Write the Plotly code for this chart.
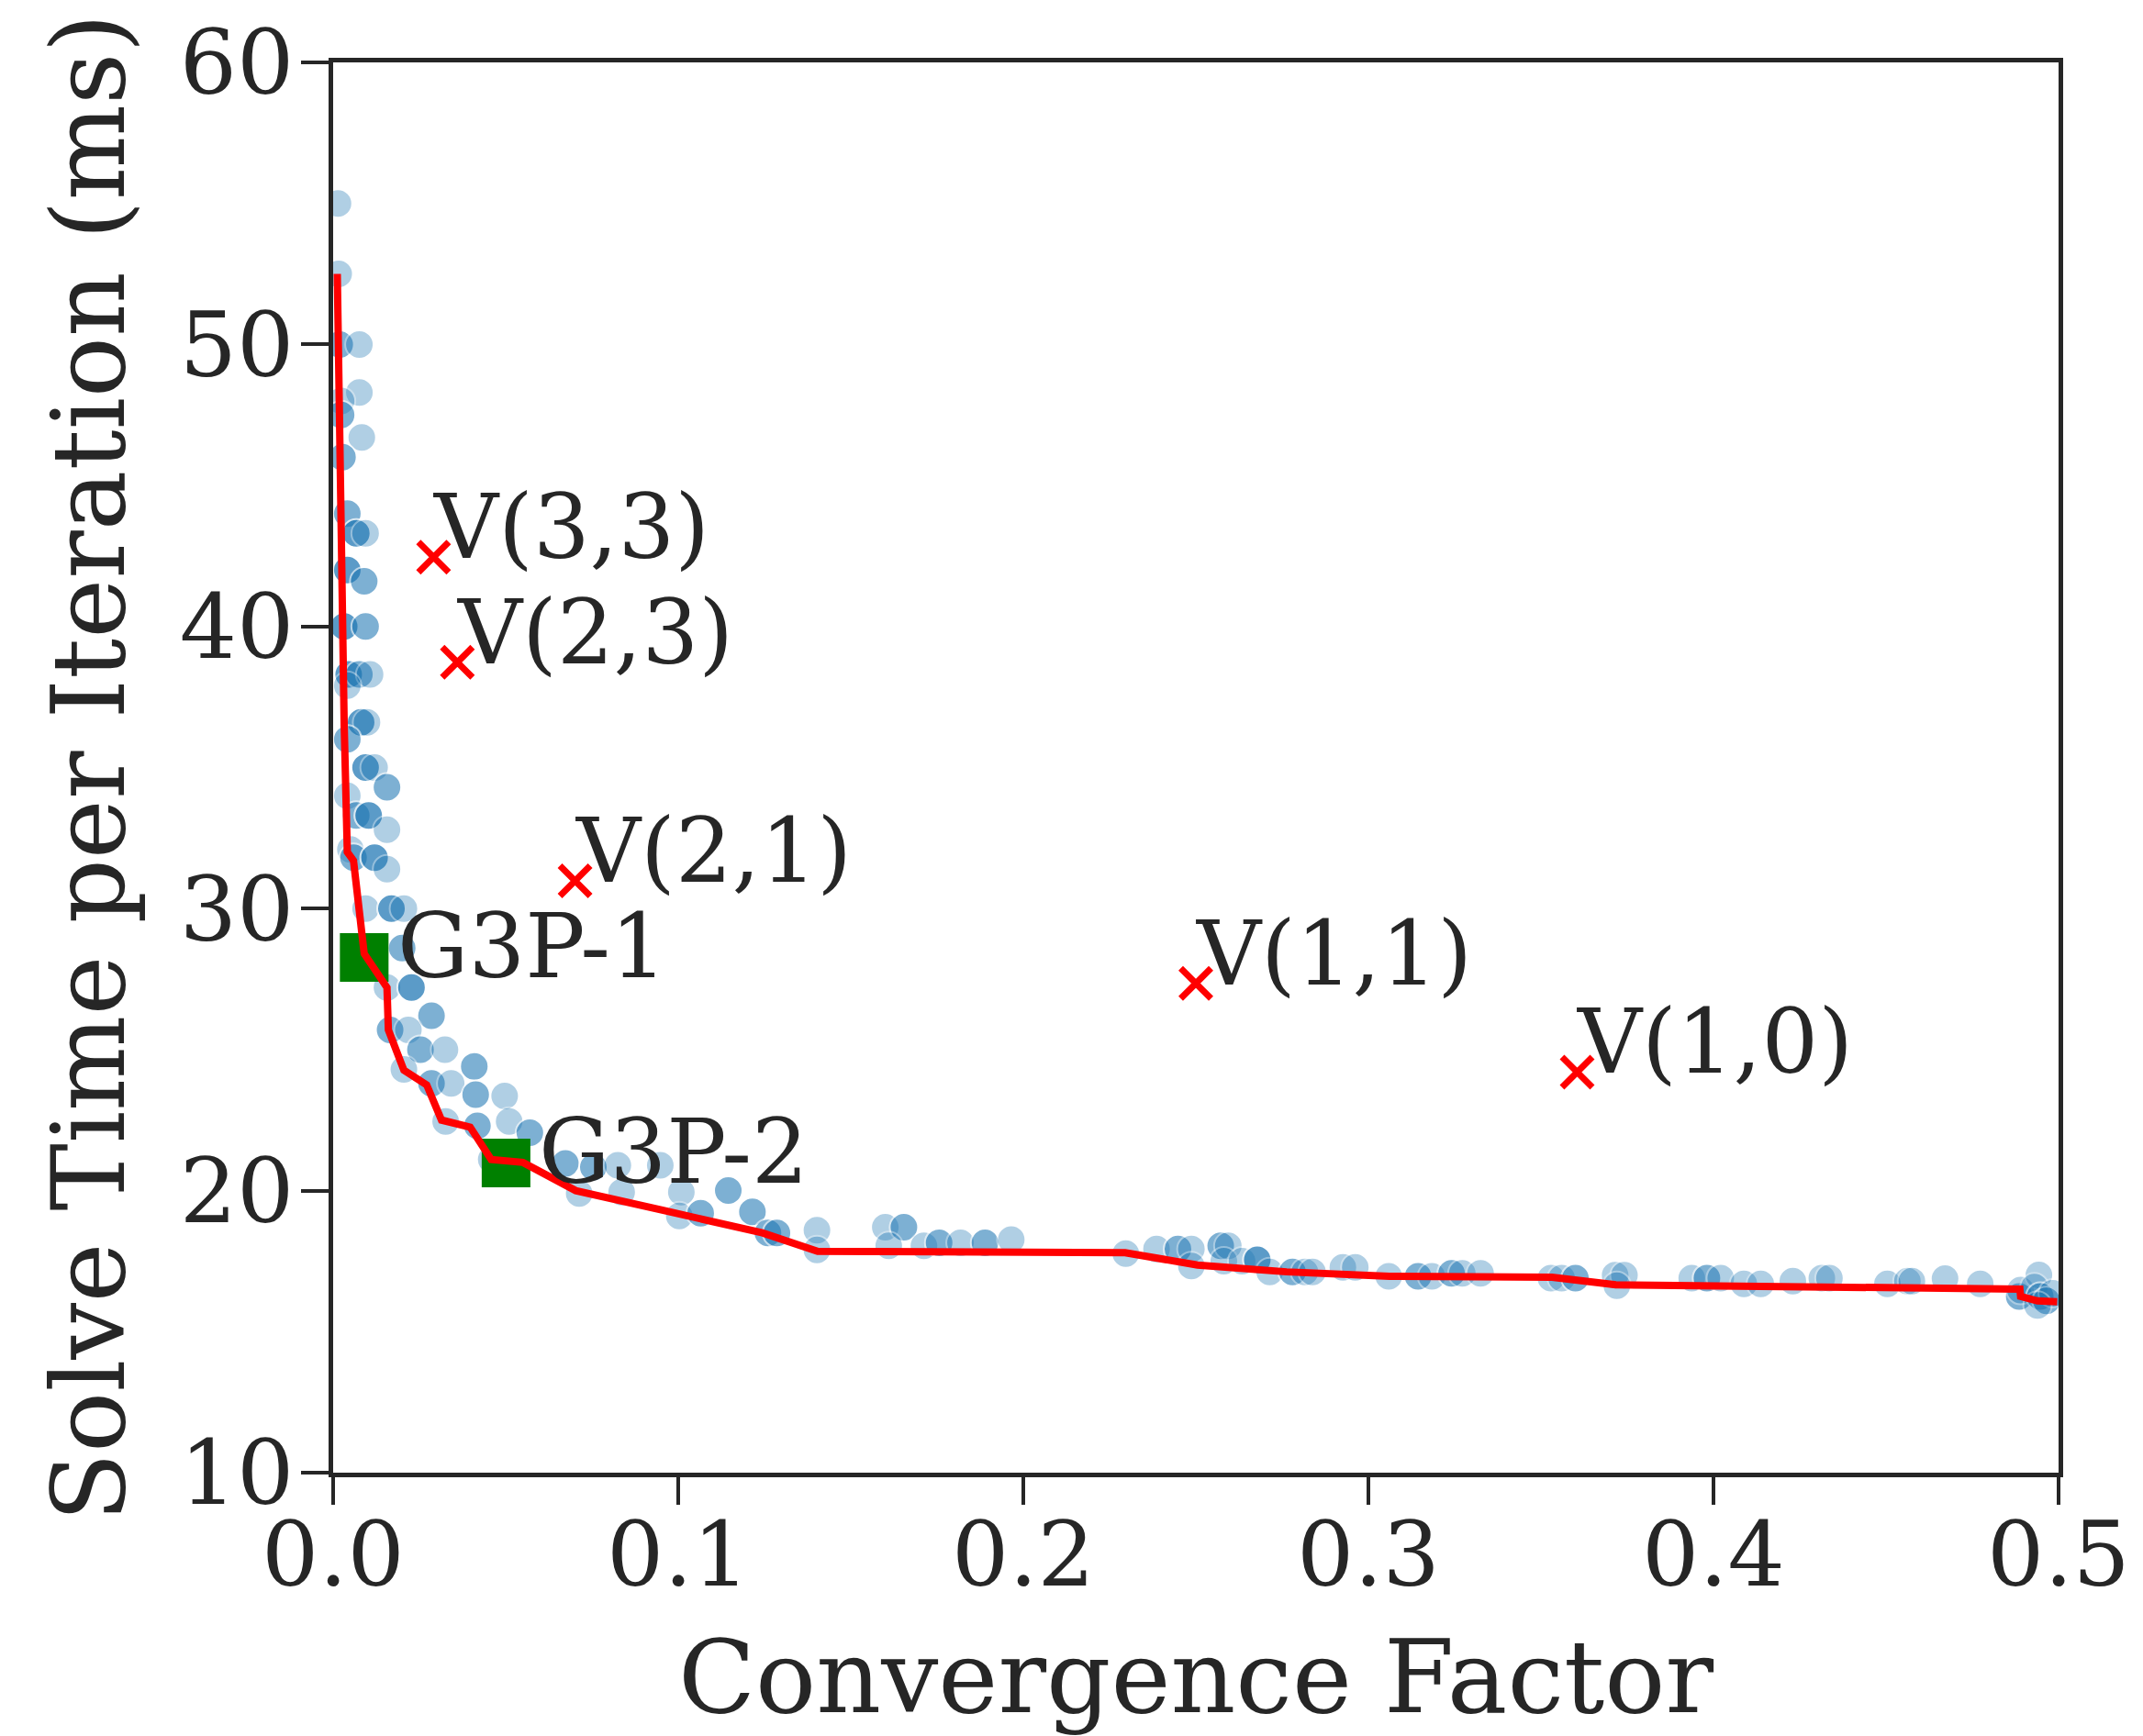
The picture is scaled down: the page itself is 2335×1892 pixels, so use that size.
import numpy as np
import plotly.graph_objects as go

# ---------------- data ----------------
conv = [0.0014, 0.0016, 0.0019, 0.0076, 0.0076, 0.0023, 0.0023, 0.0083, 0.0027, 0.0041,
        0.0067, 0.0094, 0.0041, 0.0090, 0.0032, 0.0094, 0.0045, 0.0076, 0.0107, 0.0041,
        0.0081, 0.0098, 0.0041, 0.0094, 0.0120, 0.0156, 0.0041, 0.0067, 0.0103, 0.0156,
        0.0050, 0.0059, 0.0120, 0.0156, 0.0094, 0.0169, 0.0205, 0.0200, 0.0156, 0.0227,
        0.0285, 0.0165, 0.0218, 0.0253, 0.0324, 0.0409, 0.0205, 0.0285, 0.0342, 0.0413,
        0.0497, 0.0326, 0.0418, 0.0510, 0.0570, 0.0458, 0.0673, 0.0754, 0.0825, 0.0948,
        0.0713, 0.0836, 0.1009, 0.1145, 0.1003, 0.1065, 0.1215, 0.1260, 0.1286, 0.1402,
        0.1402, 0.1600, 0.1654, 0.1610, 0.1712, 0.1756, 0.1818, 0.1889, 0.1965, 0.2297,
        0.2386, 0.2448, 0.2487, 0.2487, 0.2572, 0.2594, 0.2581, 0.2634, 0.2678, 0.2714,
        0.2780, 0.2816, 0.2838, 0.2926, 0.2962, 0.3059, 0.3144, 0.3184, 0.3241, 0.3272,
        0.3325, 0.3529, 0.3560, 0.3600, 0.3715, 0.3742, 0.3720, 0.3937, 0.3981, 0.4021,
        0.4088, 0.4137, 0.4230, 0.4314, 0.4336, 0.4504, 0.4562, 0.4575, 0.4671, 0.4773,
        0.4886, 0.4890, 0.4943, 0.4930, 0.4947, 0.4965, 0.4983, 0.4939]
solve = [55.0, 52.5, 50.0, 50.0, 48.3, 48.0, 47.5, 46.7, 46.0, 44.0,
         43.3, 43.3, 42.0, 41.6, 40.0, 40.0, 38.3, 38.3, 38.3, 37.9,
         36.6, 36.6, 36.0, 35.0, 35.0, 34.3, 34.0, 33.3, 33.3, 32.8,
         32.1, 31.8, 31.8, 31.4, 30.0, 30.0, 30.0, 28.6, 27.2, 27.2,
         26.2, 25.7, 25.7, 25.0, 25.0, 24.4, 24.3, 23.8, 23.8, 23.4,
         23.35, 22.45, 22.3, 22.45, 22.05, 21.1, 20.96, 20.83, 20.9, 20.9,
         19.9, 19.95, 19.95, 20.0, 19.1, 19.2, 19.25, 18.5, 18.5, 18.6,
         17.9, 18.7, 18.7, 18.04, 18.04, 18.15, 18.15, 18.15, 18.26, 17.77,
         17.93, 17.93, 17.93, 17.33, 18.04, 18.04, 17.5, 17.5, 17.55, 17.12,
         17.12, 17.12, 17.12, 17.28, 17.28, 16.96, 16.96, 16.96, 17.07, 17.07,
         17.07, 16.90, 16.90, 16.90, 17.0, 17.0, 16.63, 16.90, 16.90, 16.90,
         16.69, 16.69, 16.79, 16.90, 16.90, 16.69, 16.79, 16.79, 16.88, 16.69,
         16.25, 16.47, 17.01, 16.58, 16.25, 16.09, 16.36, 15.93]
# how many configurations sit on the same spot (darker overlapping dots)
stack = [1, 1, 2, 1, 1, 1, 2, 1, 2, 2,
         3, 1, 3, 2, 3, 2, 3, 2, 1, 1,
         3, 1, 2, 3, 1, 2, 1, 2, 3, 1,
         1, 2, 3, 1, 1, 3, 1, 2, 1, 3,
         2, 2, 1, 2, 1, 2, 1, 2, 1, 2,
         1, 1, 2, 1, 2, 1, 2, 2, 1, 1,
         1, 1, 1, 2, 1, 2, 2, 2, 2, 1,
         1, 1, 2, 1, 1, 2, 1, 2, 1, 1,
         1, 2, 1, 1, 2, 1, 1, 1, 3, 1,
         2, 1, 1, 1, 1, 1, 2, 1, 2, 1,
         1, 1, 1, 2, 1, 1, 1, 1, 2, 1,
         1, 1, 1, 1, 1, 1, 1, 1, 1, 1,
         2, 1, 1, 1, 2, 2, 1, 1]

front_x = [0.0012, 0.0019, 0.0027, 0.0032, 0.0041, 0.0059, 0.0090, 0.0156, 0.0160, 0.0205,
           0.0271, 0.0314, 0.0397, 0.0458, 0.0550, 0.0703, 0.0957, 0.1244, 0.1404, 0.2295,
           0.2505, 0.2763, 0.3061, 0.3532, 0.3717, 0.4888, 0.4890, 0.4939, 0.4996]
front_y = [52.5, 46.0, 39.5, 36.5, 32.0, 31.7, 28.4, 27.2, 25.7, 24.27,
           23.75, 22.5, 22.25, 21.1, 21.0, 20.0, 19.3, 18.5, 17.85, 17.8,
           17.36, 17.12, 16.96, 16.93, 16.66, 16.51, 16.25, 16.09, 16.06]

var_names = ["V(3,3)", "V(2,3)", "V(2,1)", "V(1,1)", "V(1,0)"]
var_x = [0.0291, 0.0360, 0.0701, 0.2500, 0.3605]
var_y = [42.46, 38.73, 30.98, 27.35, 24.20]

g3p_names = ["G3P-1", "G3P-2"]
g3p_x = [0.0090, 0.0501]
g3p_y = [28.27, 20.98]

x_ticks = [0.0, 0.1, 0.2, 0.3, 0.4, 0.5]
y_ticks = [10, 20, 30, 40, 50, 60]

# ---------------- figure ----------------
INK = "#262626"
FONT = "DejaVu Serif"

sx = np.repeat(np.array(conv), stack)
sy = np.repeat(np.array(solve), stack)

fig = go.Figure()
fig.add_trace(go.Scatter(
    x=sx, y=sy, mode="markers",
    marker=dict(size=31, color="#1f77b4", opacity=0.35,
                line=dict(color="white", width=2)),
    showlegend=False, hoverinfo="skip"))
fig.add_trace(go.Scatter(
    x=g3p_x, y=g3p_y, mode="markers",
    marker=dict(size=53, symbol="square", color="#008000",
                line=dict(color="#008000", width=0)),
    showlegend=False))
fig.add_trace(go.Scatter(
    x=var_x, y=var_y, mode="markers",
    marker=dict(size=33, symbol="x-thin", color="#ff0000",
                line=dict(color="#ff0000", width=7)),
    showlegend=False))
fig.add_trace(go.Scatter(
    x=front_x, y=front_y, mode="lines",
    line=dict(color="#ff0000", width=8),
    showlegend=False))

annotations = []
for n, x, y in zip(var_names, var_x, var_y):
    annotations.append(dict(x=x, y=y, text=n, showarrow=False,
                            xanchor="left", yanchor="bottom", yshift=-26, xshift=-2,
                            font=dict(family=FONT, size=97, color=INK)))
for n, x, y in zip(g3p_names, g3p_x, g3p_y):
    annotations.append(dict(x=x, y=y, text=n, showarrow=False,
                            xanchor="left", yanchor="bottom", yshift=-47, xshift=34,
                            font=dict(family=FONT, size=97, color=INK)))

axis_common = dict(showgrid=False, zeroline=False, showline=True, linecolor=INK,
                   linewidth=5, mirror=True, ticks="outside", ticklen=30,
                   tickwidth=4, tickcolor=INK,
                   tickfont=dict(family=FONT, size=98, color=INK))

fig.update_layout(
    width=2335, height=1892,
    margin=dict(l=363, r=92, t=68, b=287, autoexpand=False),
    paper_bgcolor="white", plot_bgcolor="white",
    font=dict(family=FONT, color=INK),
    annotations=annotations,
    xaxis=dict(range=[0, 0.5], tickvals=x_ticks,
               ticktext=[f"{v:.1f}" for v in x_ticks],
               ticklabelstandoff=-30,
               title=dict(text="Convergence Factor",
                          font=dict(family=FONT, size=110, color=INK), standoff=60),
               **axis_common),
    yaxis=dict(range=[10, 60], tickvals=y_ticks,
               ticktext=[str(v) for v in y_ticks],
               ticklabelstandoff=-12,
               title=dict(text="Solve Time per Iteration (ms)",
                          font=dict(family=FONT, size=110, color=INK), standoff=25),
               **axis_common),
)

fig.write_html("out.html")
